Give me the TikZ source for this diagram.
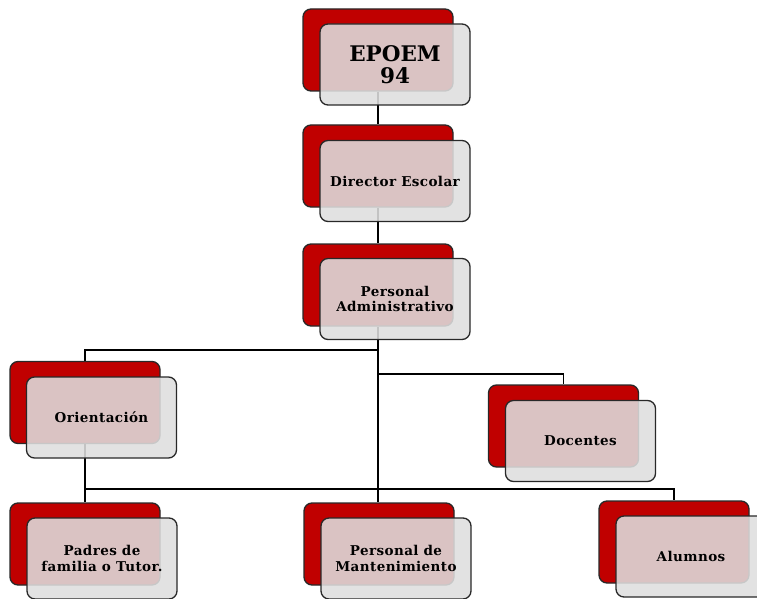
\documentclass[tikz,border=0pt]{standalone}
\usepackage{fontspec}
\setmainfont{DejaVu Serif}
\usetikzlibrary{positioning}
\pgfdeclarelayer{bg}
\pgfsetlayers{bg,main}
\definecolor{boxred}{RGB}{192,0,0}
\definecolor{frontgray}{RGB}{222,222,222}
\definecolor{edgegray}{RGB}{40,40,40}
\tikzset{
  x=1pt, y=-1pt,
  backbox/.style={draw=edgegray, line width=1.3pt, fill=boxred, rounded corners=8pt,
    minimum width=150pt, minimum height=82pt, inner sep=0pt},
  frontbox/.style={draw=edgegray, line width=1.3pt, fill=frontgray, fill opacity=0.88,
    text opacity=1, rounded corners=8pt, minimum width=150pt, minimum height=81pt,
    inner sep=0pt, align=center,
    font=\bfseries\addfontfeature{LetterSpace=3}\fontsize{13.5}{15.5}\selectfont},
  bigtext/.style={font=\bfseries\fontsize{21.5}{22.5}\selectfont},
  link/.style={draw=black, line width=1.8pt}
}
\begin{document}
\begin{tikzpicture}
\useasboundingbox (0,0) rectangle (757,599);
% back (red) boxes
\node[backbox] (r1) at (378,50) {};
\node[backbox] (r2) at (378,166) {};
\node[backbox] (r3) at (378,285) {};
\node[backbox] (r4) at (85,402.5) {};
\node[backbox] (r5) at (563.5,426) {};
\node[backbox] (r6) at (85,544) {};
\node[backbox] (r7) at (379,544) {};
\node[backbox] (r8) at (674,542) {};
% front boxes
\node[frontbox, bigtext] (f1) at (395,64.5) {EPOEM\\94};
\node[frontbox] (f2) at (395,181) {Director Escolar};
\node[frontbox] (f3) at (395,299) {Personal\\Administrativo};
\node[frontbox] (f4) at (101.5,417.5) {Orientación};
\node[frontbox] (f5) at (580.5,441) {Docentes};
\node[frontbox] (f6) at (102,558.5) {Padres de\\familia o Tutor.};
\node[frontbox] (f7) at (396,558.5) {Personal de\\Mantenimiento};
\node[frontbox] (f8) at (691,556.5) {Alumnos};
% junctions
\coordinate (j1) at (378,350);
\coordinate (j2) at (378,374);
\coordinate (j3) at (85,489);
\begin{pgfonlayer}{bg}
\draw[link] (r1.south) -- (r2.north);
\draw[link] (r2.south) -- (r3.north);
\draw[link] (r3.south) -- (r3.south |- r7.north);
\draw[link] (j1) -| (r4.north);
\draw[link] (j2) -| (r5.north);
\draw[link] (r4.south) -- (r6.north);
\draw[link] (j3) -| (r8.north);
\end{pgfonlayer}
\end{tikzpicture}
\end{document}
